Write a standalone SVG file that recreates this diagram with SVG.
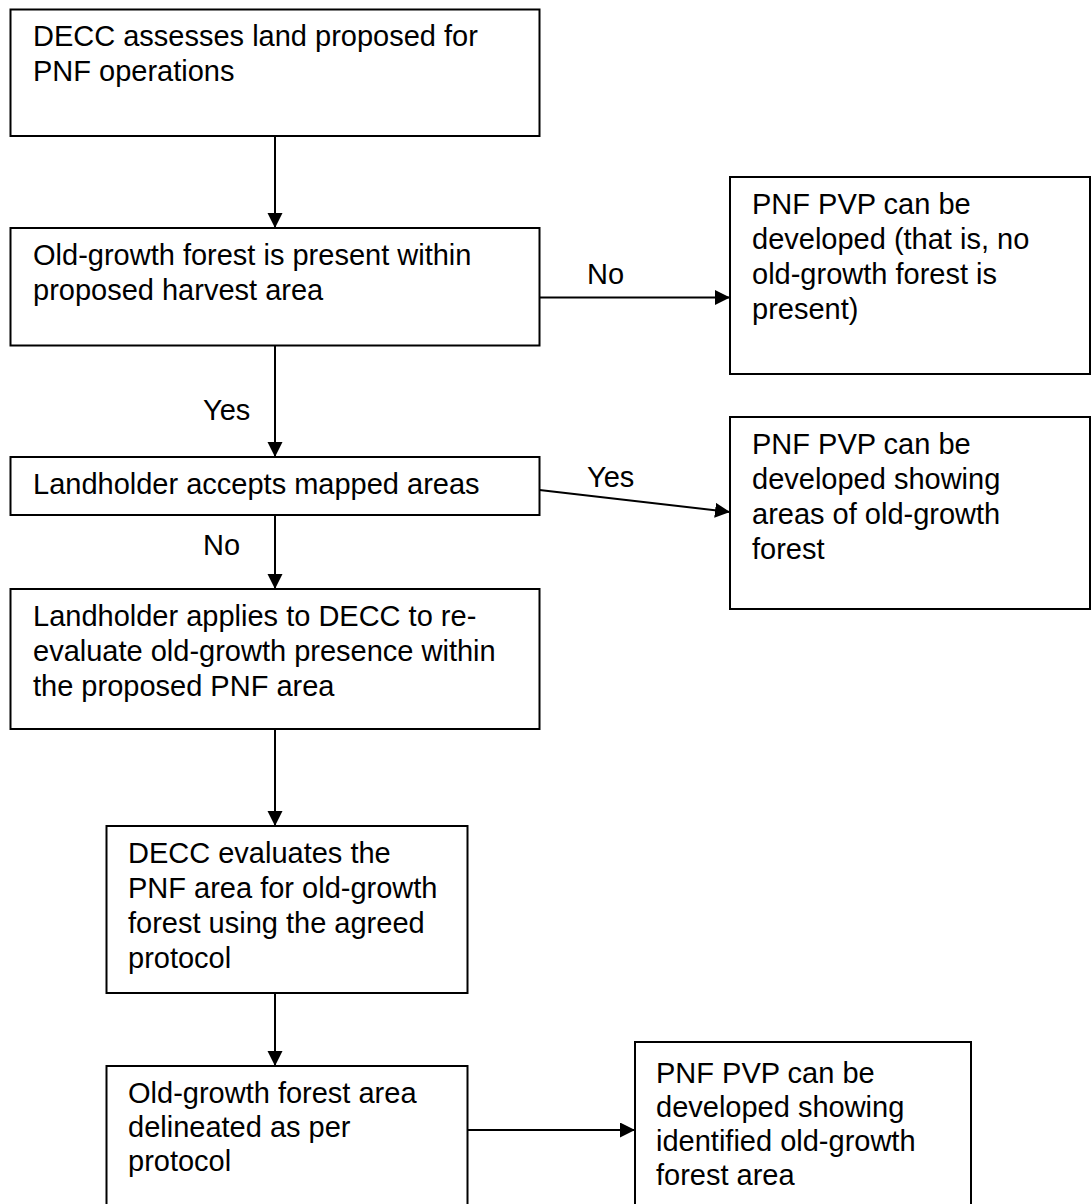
<svg xmlns="http://www.w3.org/2000/svg" width="1091" height="1204" viewBox="0 0 1091 1204">
  <style>
    .box { fill: #ffffff; stroke: #000000; stroke-width: 2; }
    .txt { font-family: "Liberation Sans", Arial, sans-serif; font-size: 29px; fill: #000000; }
    .conn { stroke: #000000; stroke-width: 2; fill: none; }
  </style>
  <defs>
    <marker id="arrow" markerUnits="userSpaceOnUse" markerWidth="16" markerHeight="16" refX="15" refY="7.5" orient="auto">
      <path d="M0,0 L15,7.5 L0,15 Z" fill="#000000"/>
    </marker>
  </defs>
  <rect width="1091" height="1204" fill="#ffffff"/>

  <g id="connectors">
    <line class="conn" x1="275" y1="136" x2="275" y2="228" marker-end="url(#arrow)"/>
    <line class="conn" x1="539.5" y1="297.5" x2="730" y2="297.5" marker-end="url(#arrow)"/>
    <line class="conn" x1="275" y1="345.5" x2="275" y2="457" marker-end="url(#arrow)"/>
    <line class="conn" x1="539.5" y1="490" x2="730" y2="512" marker-end="url(#arrow)"/>
    <line class="conn" x1="275" y1="515" x2="275" y2="589" marker-end="url(#arrow)"/>
    <line class="conn" x1="275" y1="729" x2="275" y2="826" marker-end="url(#arrow)"/>
    <line class="conn" x1="275" y1="993" x2="275" y2="1066" marker-end="url(#arrow)"/>
    <line class="conn" x1="467" y1="1130" x2="635" y2="1130" marker-end="url(#arrow)"/>
    <text class="txt" x="587" y="284">No</text>
    <text class="txt" x="203" y="420">Yes</text>
    <text class="txt" x="587" y="487">Yes</text>
    <text class="txt" x="203" y="555">No</text>
  </g>

  <g id="node-assess">
    <rect class="box" x="10.5" y="9.5" width="529" height="126.5"/>
    <text class="txt" x="33" y="46">DECC assesses land proposed for</text>
    <text class="txt" x="33" y="81">PNF operations</text>
  </g>

  <g id="node-present">
    <rect class="box" x="10.5" y="228" width="529" height="117.5"/>
    <text class="txt" x="33" y="265">Old-growth forest is present within</text>
    <text class="txt" x="33" y="300">proposed harvest area</text>
  </g>

  <g id="node-pvp-none">
    <rect class="box" x="730" y="177" width="360" height="197"/>
    <text class="txt" x="752" y="214">PNF PVP can be</text>
    <text class="txt" x="752" y="249">developed (that is, no</text>
    <text class="txt" x="752" y="284">old-growth forest is</text>
    <text class="txt" x="752" y="319">present)</text>
  </g>

  <g id="node-accepts">
    <rect class="box" x="10.5" y="457" width="529" height="58"/>
    <text class="txt" x="33" y="494">Landholder accepts mapped areas</text>
  </g>

  <g id="node-pvp-areas">
    <rect class="box" x="730" y="417" width="360" height="192"/>
    <text class="txt" x="752" y="454">PNF PVP can be</text>
    <text class="txt" x="752" y="489">developed showing</text>
    <text class="txt" x="752" y="524">areas of old-growth</text>
    <text class="txt" x="752" y="559">forest</text>
  </g>

  <g id="node-applies">
    <rect class="box" x="10.5" y="589" width="529" height="140"/>
    <text class="txt" x="33" y="626">Landholder applies to DECC to re-</text>
    <text class="txt" x="33" y="661">evaluate old-growth presence within</text>
    <text class="txt" x="33" y="696">the proposed PNF area</text>
  </g>

  <g id="node-evaluates">
    <rect class="box" x="106.5" y="826" width="361" height="167"/>
    <text class="txt" x="128" y="863">DECC evaluates the</text>
    <text class="txt" x="128" y="898">PNF area for old-growth</text>
    <text class="txt" x="128" y="933">forest using the agreed</text>
    <text class="txt" x="128" y="968">protocol</text>
  </g>

  <g id="node-delineated">
    <rect class="box" x="106.5" y="1066" width="361" height="150"/>
    <text class="txt" x="128" y="1103">Old-growth forest area</text>
    <text class="txt" x="128" y="1137">delineated as per</text>
    <text class="txt" x="128" y="1171">protocol</text>
  </g>

  <g id="node-pvp-identified">
    <rect class="box" x="635" y="1042" width="336" height="174"/>
    <text class="txt" x="656" y="1083">PNF PVP can be</text>
    <text class="txt" x="656" y="1117">developed showing</text>
    <text class="txt" x="656" y="1151">identified old-growth</text>
    <text class="txt" x="656" y="1185">forest area</text>
  </g>
</svg>
